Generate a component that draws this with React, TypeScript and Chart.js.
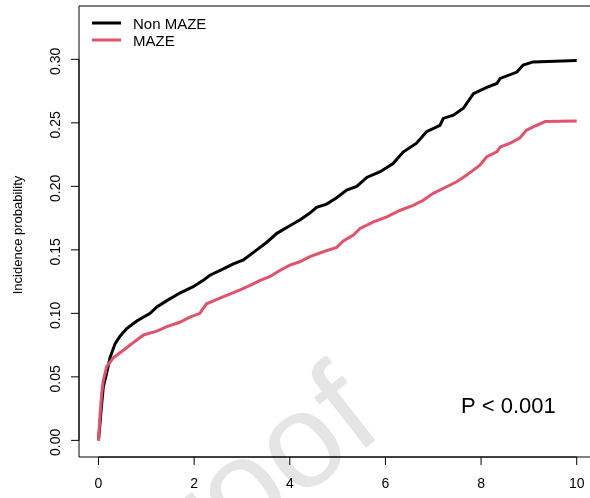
import { useEffect, useRef } from "react";
import { Chart, registerables } from "chart.js";

Chart.register(...registerables);

// ---- data ----
const nonMazeTime = [0, 0.03, 0.067, 0.1, 0.17, 0.24, 0.345, 0.45, 0.59, 0.8, 1.08, 1.22, 1.43, 1.7, 1.98, 2.19, 2.33, 2.61, 2.82, 3.03, 3.31, 3.52, 3.73, 4.0, 4.21, 4.42, 4.56, 4.77, 4.98, 5.19, 5.4, 5.61, 5.89, 6.16, 6.37, 6.65, 6.86, 7.14, 7.21, 7.42, 7.63, 7.84, 8.12, 8.33, 8.4, 8.75, 8.88, 9.09, 10.0];
const nonMazeProb = [0, 0.013, 0.029, 0.042, 0.053, 0.065, 0.076, 0.082, 0.088, 0.094, 0.1, 0.105, 0.11, 0.116, 0.121, 0.126, 0.13, 0.135, 0.139, 0.142, 0.15, 0.156, 0.163, 0.169, 0.1735, 0.179, 0.1835, 0.186, 0.191, 0.197, 0.2, 0.207, 0.2115, 0.218, 0.227, 0.234, 0.243, 0.248, 0.2535, 0.256, 0.2615, 0.273, 0.278, 0.281, 0.285, 0.29, 0.2955, 0.298, 0.299];

const mazeTime = [0, 0.03, 0.067, 0.1, 0.17, 0.31, 0.52, 0.73, 0.94, 1.22, 1.43, 1.7, 1.91, 2.12, 2.19, 2.26, 2.54, 2.96, 3.17, 3.38, 3.59, 3.8, 4.0, 4.21, 4.42, 4.7, 4.98, 5.12, 5.33, 5.47, 5.75, 6.03, 6.3, 6.58, 6.79, 7.0, 7.28, 7.49, 7.7, 7.84, 7.98, 8.12, 8.33, 8.4, 8.61, 8.81, 8.95, 9.09, 9.34, 10.0];
const mazeProb = [0, 0.019, 0.037, 0.047, 0.058, 0.065, 0.071, 0.077, 0.083, 0.086, 0.0895, 0.093, 0.097, 0.1, 0.104, 0.1075, 0.112, 0.1185, 0.122, 0.126, 0.129, 0.134, 0.138, 0.1406, 0.1446, 0.1485, 0.152, 0.157, 0.1617, 0.1669, 0.172, 0.176, 0.181, 0.185, 0.189, 0.1945, 0.1997, 0.2036, 0.209, 0.2128, 0.2168, 0.2233, 0.2272, 0.231, 0.234, 0.238, 0.2443, 0.2469, 0.251, 0.2515];

const xTickValues = [0, 2, 4, 6, 8, 10];
const xTickLabels = ["0", "2", "4", "6", "8", "10"];
const yTickValues = [0, 0.05, 0.1, 0.15, 0.2, 0.25, 0.3];
const yTickLabels = ["0.00", "0.05", "0.10", "0.15", "0.20", "0.25", "0.30"];
const seriesNames = ["Non MAZE", "MAZE"];
const seriesColors = ["#000000", "#DF536B"];
const yTitle = "Incidence probability";
const pValueText = "P < 0.001";
const watermarkText = "Proof";

const FONT = '"Liberation Sans", Arial, Helvetica, sans-serif';

const rStylePlugin = {
  id: "rStyle",
  beforeDatasetsDraw(chart: any) {
    const ctx = chart.ctx as CanvasRenderingContext2D;
    ctx.save();
    ctx.fillStyle = "#e5e5e5";
    ctx.font = `135px ${FONT}`;
    ctx.translate(386, 432);
    ctx.rotate((-38 * Math.PI) / 180);
    ctx.textAlign = "right";
    ctx.textBaseline = "alphabetic";
    ctx.fillText(watermarkText, 0, 0);
    ctx.restore();
  },
  afterDraw(chart: any) {
    const ctx = chart.ctx as CanvasRenderingContext2D;
    const a = chart.chartArea;
    const xs = chart.scales.x;
    const ys = chart.scales.y;
    ctx.save();
    ctx.strokeStyle = "#000";
    ctx.lineWidth = 1;
    // box
    ctx.beginPath();
    ctx.moveTo(a.right + 10, a.top);
    ctx.lineTo(a.left, a.top);
    ctx.lineTo(a.left, a.bottom);
    ctx.lineTo(a.right + 10, a.bottom);
    ctx.stroke();

    // x axis
    const x0 = xs.getPixelForValue(xTickValues[0]);
    const x1 = xs.getPixelForValue(xTickValues[xTickValues.length - 1]);
    ctx.beginPath();
    ctx.moveTo(x0, a.bottom);
    ctx.lineTo(x1, a.bottom);
    xTickValues.forEach((v) => {
      const px = xs.getPixelForValue(v);
      ctx.moveTo(px, a.bottom);
      ctx.lineTo(px, a.bottom + 8);
    });
    ctx.stroke();
    ctx.fillStyle = "#000";
    ctx.font = `14px ${FONT}`;
    ctx.textAlign = "center";
    ctx.textBaseline = "alphabetic";
    xTickValues.forEach((v, i) => {
      ctx.fillText(xTickLabels[i], xs.getPixelForValue(v), 488);
    });

    // y axis
    const y0 = ys.getPixelForValue(yTickValues[0]);
    const y1 = ys.getPixelForValue(yTickValues[yTickValues.length - 1]);
    ctx.beginPath();
    ctx.moveTo(a.left, y0);
    ctx.lineTo(a.left, y1);
    yTickValues.forEach((v) => {
      const py = ys.getPixelForValue(v);
      ctx.moveTo(a.left, py);
      ctx.lineTo(a.left - 8, py);
    });
    ctx.stroke();
    yTickValues.forEach((v, i) => {
      const py = ys.getPixelForValue(v);
      ctx.save();
      ctx.translate(60, py);
      ctx.rotate(-Math.PI / 2);
      ctx.textAlign = "center";
      ctx.fillText(yTickLabels[i], -2, 0);
      ctx.restore();
    });

    // y title
    ctx.save();
    ctx.font = `13px ${FONT}`;
    ctx.translate(22, 235);
    ctx.rotate(-Math.PI / 2);
    ctx.textAlign = "center";
    ctx.fillText(yTitle, 0, 0);
    ctx.restore();

    // legend
    const legendY = [23, 40];
    seriesNames.forEach((name, i) => {
      ctx.beginPath();
      ctx.strokeStyle = seriesColors[i];
      ctx.lineWidth = 3;
      ctx.moveTo(92, legendY[i]);
      ctx.lineTo(121, legendY[i]);
      ctx.stroke();
      ctx.fillStyle = "#000";
      ctx.font = `15px ${FONT}`;
      ctx.textAlign = "left";
      ctx.fillText(name, 133, legendY[i] + 5.5);
    });

    // p-value
    ctx.font = `22px ${FONT}`;
    ctx.textAlign = "left";
    ctx.fillStyle = "#000";
    ctx.fillText(pValueText, 461, 413);
    ctx.restore();
  },
};

export default function App() {
  const canvasRef = useRef<HTMLCanvasElement | null>(null);

  useEffect(() => {
    if (!canvasRef.current) return;
    const chart = new Chart(canvasRef.current, {
      type: "line",
      data: {
        datasets: [
          {
            label: seriesNames[0],
            data: nonMazeTime.map((t, i) => ({ x: t, y: nonMazeProb[i] })),
            borderColor: seriesColors[0],
            borderWidth: 3,
            pointRadius: 0,
            tension: 0,
            fill: false,
            order: 1,
          },
          {
            label: seriesNames[1],
            data: mazeTime.map((t, i) => ({ x: t, y: mazeProb[i] })),
            borderColor: seriesColors[1],
            borderWidth: 3,
            pointRadius: 0,
            tension: 0,
            fill: false,
            order: 0,
          },
        ],
      },
      options: {
        animation: false,
        responsive: false,
        devicePixelRatio: 1,
        layout: { padding: { left: 79, top: 6, right: 0, bottom: 41 } },
        plugins: { legend: { display: false }, tooltip: { enabled: false } },
        scales: {
          x: { type: "linear", min: -0.408, max: 10.278, display: false },
          y: { type: "linear", min: -0.0131, max: 0.342, display: false },
        },
      },
      plugins: [rStylePlugin],
    });
    return () => chart.destroy();
  }, []);

  return (
    <div style={{ position: "fixed", left: 0, top: 0, width: 590, height: 498, background: "#fff" }}>
      <canvas ref={canvasRef} width={590} height={498} style={{ display: "block" }} />
    </div>
  );
}
